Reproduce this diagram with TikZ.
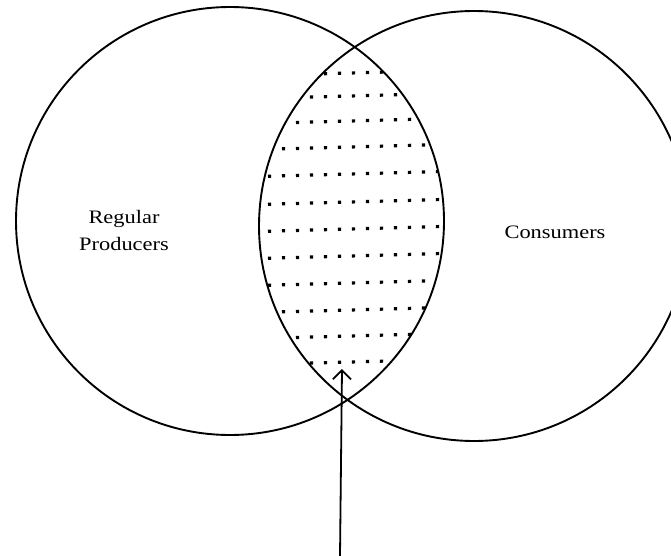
\documentclass[tikz,border=0pt]{standalone}
\usepackage{fontspec}
\setmainfont{Liberation Serif}
\usetikzlibrary{arrows.meta}
\tikzset{
  setline/.style={line width=1.9pt, black},
  dotrow/.style={line width=3.2pt, dash pattern=on 3.2pt off 10.8pt, black},
  lbl/.style={font=\fontsize{19}{27}\selectfont, align=center, inner sep=0pt, xscale=1.18},
  pointer/.style={line width=1.8pt, -{Straight Barb[length=9pt,width=18pt,line width=1.8pt]}}
}
\begin{document}
\begin{tikzpicture}[x=1pt,y=-1pt]
\useasboundingbox (0,0) rectangle (671,556);
\coordinate (cl) at (230,221);
\coordinate (cr) at (474,226);
\begin{scope}
  \clip (cl) circle (214);
  \clip (cr) circle (215);
  \foreach \yy in {73,96,121,147,174,202,229,256,283,310,336,362}{
    \draw[dotrow] (240,\yy+3) -- (460,\yy-3);
  }
\end{scope}
\draw[setline] (cl) circle (214);
\draw[setline] (cr) circle (215);
\node[lbl] (prod) at (124,231) {Regular\\Producers};
\node[lbl] (cons) at (555,232) {Consumers};
\coordinate (abot) at (340,556);
\coordinate (atip) at (342,369);
\draw[pointer] (abot) -- (atip);
\end{tikzpicture}
\end{document}
